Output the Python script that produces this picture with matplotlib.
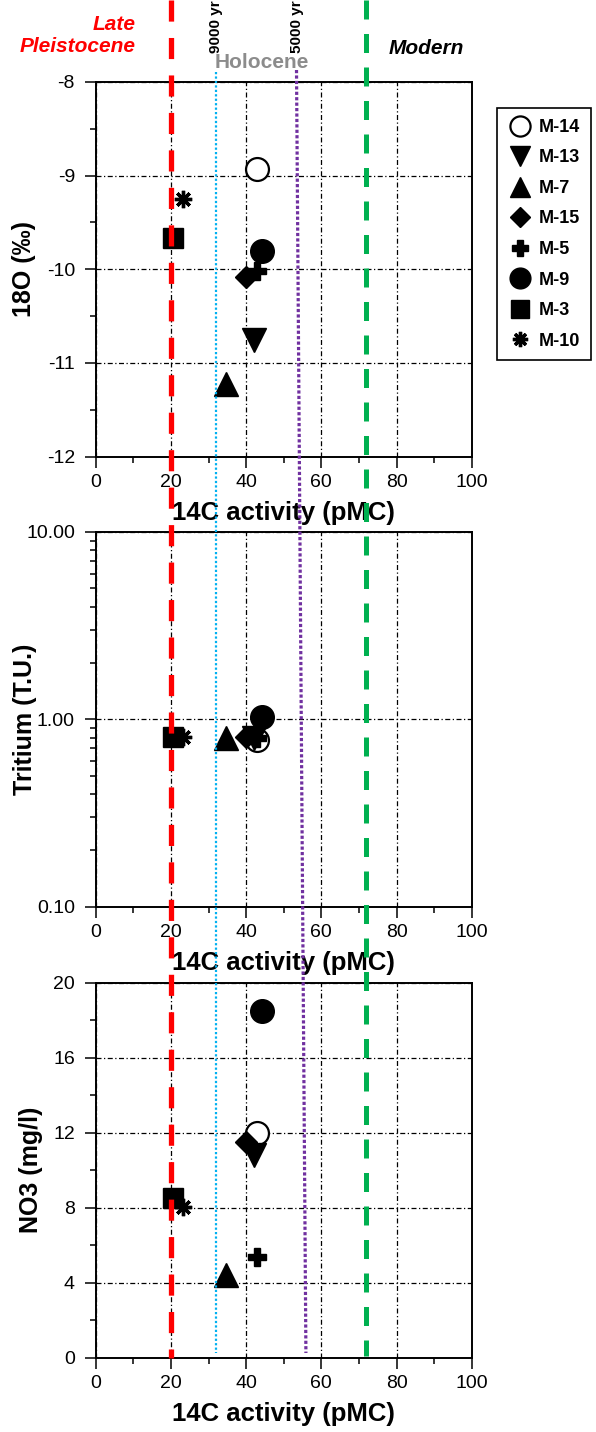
import numpy as np
import matplotlib
matplotlib.use("Agg")
import matplotlib.pyplot as plt
from matplotlib.ticker import MultipleLocator, LogLocator, FormatStrFormatter, NullFormatter, FixedLocator

plt.rcParams["font.family"] = ["Liberation Sans", "DejaVu Sans"]
plt.rcParams["axes.unicode_minus"] = False

# DATA
samples = ["M-14", "M-13", "M-7", "M-15", "M-5", "M-9", "M-3", "M-10"]
c14 = [42.8, 42.0, 34.7, 39.9, 42.8, 44.3, 20.5, 23.1]
o18 = [-8.93, -10.75, -11.22, -10.08, -10.02, -9.80, -9.67, -9.25]
tritium = [0.78, 0.80, 0.80, 0.81, 0.80, 1.03, 0.81, 0.81]
no3 = [12.0, 10.8, 4.4, 11.5, 5.36, 18.5, 8.5, 8.04]

# age boundaries on the 14C axis
pleistocene_limit = 20
yr9000 = 32
yr5000 = [53.4, 55.9]   # the line in the original drifts a little
modern_limit = 72

# STYLE
markers = ["o", "v", "^", "D", "P", "o", "s", (8, 2, 0)]
faces = ["white", "black", "black", "black", "black", "black", "black", "black"]
sizes = [16.5, 17, 17, 11.5, 13, 17, 14.5, 12.5]
edge_w = [1.6, 1, 1, 1, 1, 1, 1, 2.4]

fig = plt.figure(figsize=(5.96, 14.32), dpi=100)

L, W, H = 0.1606, 0.6309, 0.2617
bottoms = [0.6811, 0.3668, 0.0519]
grid_ls = (0, (4, 2, 1, 2))

axes = []
for b in bottoms:
    ax = fig.add_axes([L, b, W, H])
    ax.set_xlim(0, 100)
    ax.xaxis.set_major_locator(MultipleLocator(20))
    ax.xaxis.set_minor_locator(MultipleLocator(10))
    ax.tick_params(which="both", direction="out", top=False, right=False,
                   width=1.1, labelsize=14, colors="black")
    ax.tick_params(which="major", length=8)
    ax.tick_params(which="minor", length=4.5)
    ax.tick_params(axis="y", pad=7)
    ax.tick_params(axis="x", pad=4.5)
    for sp in ax.spines.values():
        sp.set_linewidth(1.4)
    ax.grid(True, which="major", color="black", lw=0.9, ls=grid_ls)
    ax.set_xlabel("14C activity (pMC)", fontsize=18.5, fontweight="bold", labelpad=7)
    axes.append(ax)

ax1, ax2, ax3 = axes

# top: 18O
ax1.set_ylim(-12, -8)
ax1.yaxis.set_major_locator(MultipleLocator(1))
ax1.yaxis.set_minor_locator(MultipleLocator(0.5))
ax1.set_ylabel("18O (‰)", fontsize=18, fontweight="bold")
ax1.yaxis.set_label_coords(-0.16, 0.5)

# middle: tritium, log scale
ax2.set_yscale("log")
ax2.set_ylim(0.1, 10)
ax2.yaxis.set_major_locator(FixedLocator([0.1, 1, 10]))
ax2.yaxis.set_major_formatter(FormatStrFormatter("%.2f"))
ax2.yaxis.set_minor_locator(LogLocator(base=10, subs=np.arange(2, 10)))
ax2.yaxis.set_minor_formatter(NullFormatter())
ax2.set_ylabel("Tritium (T.U.)", fontsize=18, fontweight="bold")
ax2.yaxis.set_label_coords(-0.155, 0.5)

# bottom: NO3
ax3.set_ylim(0, 20)
ax3.yaxis.set_major_locator(MultipleLocator(4))
ax3.yaxis.set_minor_locator(MultipleLocator(2))
ax3.set_ylabel("NO3 (mg/l)", fontsize=18, fontweight="bold")
ax3.yaxis.set_label_coords(-0.14, 0.5)

handles = []
for i, name in enumerate(samples):
    kw = dict(ls="none", marker=markers[i], ms=sizes[i], mfc=faces[i],
              mec="black", mew=edge_w[i], zorder=3, label=name)
    h, = ax1.plot(c14[i], o18[i], **kw)
    ax2.plot(c14[i], tritium[i], **kw)
    ax3.plot(c14[i], no3[i], **kw)
    handles.append(h)

leg = fig.legend(handles, samples, loc="upper left", bbox_to_anchor=(497 / 596, 1 - 108 / 1432),
                 borderaxespad=0, frameon=True, fancybox=False, edgecolor="black",
                 framealpha=1, markerscale=0.88, handlelength=1.3, handletextpad=0.4,
                 labelspacing=0.75, borderpad=0.6,
                 prop=dict(family="Liberation Sans", weight="bold", size=13))
leg.get_frame().set_linewidth(1.2)

# overlay spanning the whole height, same x scale, y in pixels from top
ov = fig.add_axes([L, 0, W, 1], zorder=10)
ov.set_xlim(0, 100)
ov.set_ylim(1432, 0)
ov.axis("off")
ov.patch.set_alpha(0)

ov.plot([pleistocene_limit] * 2, [0, 1358], color="#FF0000", lw=3.8,
        ls=(0, (4.0, 3.1)), dash_capstyle="butt")
ov.plot([modern_limit] * 2, [0, 1356], color="#00B050", lw=3.6,
        ls=(0, (3.8, 2.9)), dash_capstyle="butt")
ov.plot([yr9000] * 2, [72, 1353], color="#00B0F0", lw=1.6,
        ls=(0, (1, 1)), dash_capstyle="butt")
ov.plot(yr5000, [70, 1353], color="#7030A0", lw=2.3,
        ls=(0, (1, 0.7)), dash_capstyle="butt")

ov.text(10.7, 36, "Late\nPleistocene", color="#FF0000", fontsize=15,
        fontweight="bold", fontstyle="italic", ha="right", va="center",
        multialignment="right", linespacing=1.2)
ov.text(87.8, 48, "Modern", color="black", fontsize=15, fontweight="bold",
        fontstyle="italic", ha="center", va="center")
ov.text(44.1, 63, "Holocene", color="#8C8C8C", fontsize=15, fontweight="bold",
        ha="center", va="center")
ov.text(yr9000, 53, "9000 yr", rotation=90, fontsize=11, fontweight="bold",
        ha="center", va="bottom", clip_on=False)
ov.text(yr5000[0], 53, "5000 yr", rotation=90, fontsize=11, fontweight="bold",
        ha="center", va="bottom", clip_on=False)

fig.savefig("out.png", dpi=100)
